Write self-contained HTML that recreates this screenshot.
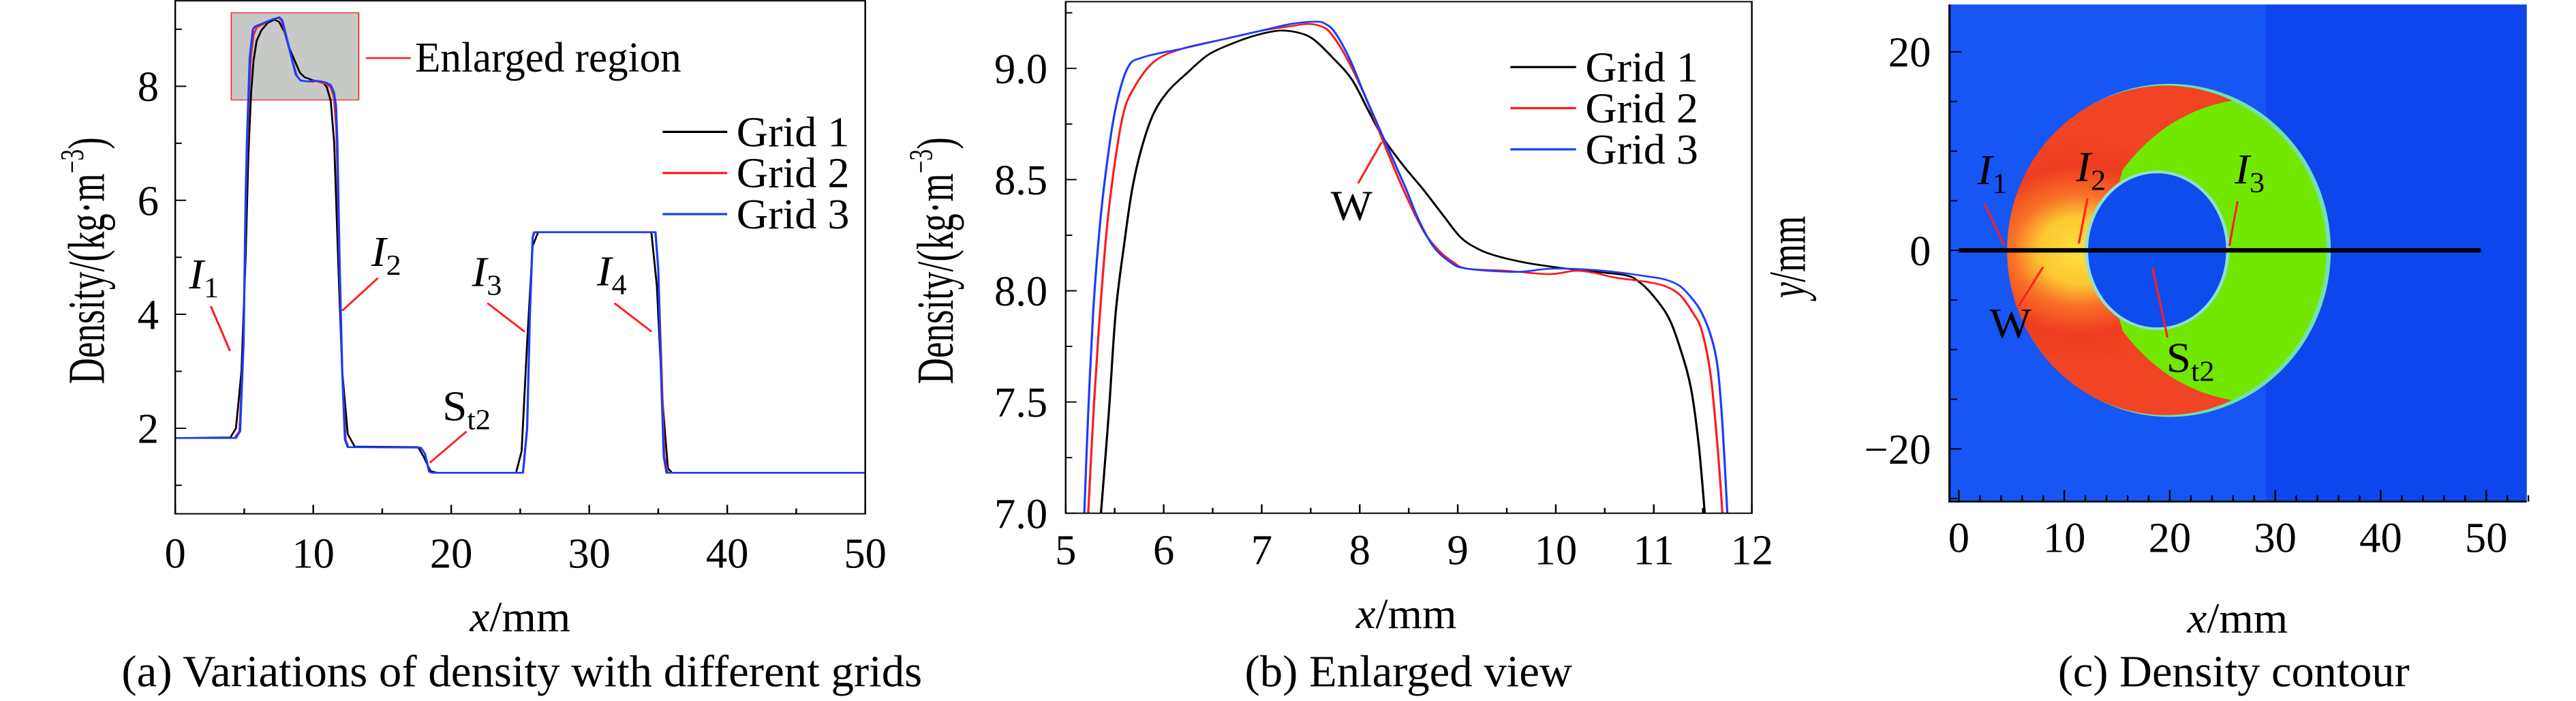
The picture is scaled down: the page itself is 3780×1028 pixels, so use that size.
<!DOCTYPE html>
<html><head><meta charset="utf-8">
<style>
html,body{margin:0;padding:0;background:#fff;}
body{width:3780px;height:1028px;position:relative;overflow:hidden;font-family:"Liberation Serif",serif;}
svg{position:absolute;top:0;overflow:visible;}
text{font-family:"Liberation Serif",serif;fill:#000;}
</style></head>
<body>
<svg id="pa" style="left:0" width="1260" height="1028" viewBox="0 0 1568 1568" preserveAspectRatio="none"></svg>
<svg id="pb" style="left:1260px" width="1260" height="1028" viewBox="0 0 1568 1568" preserveAspectRatio="none"></svg>
<svg id="pc" style="left:2520px" width="1260" height="1028" viewBox="0 0 1568 1568" preserveAspectRatio="none"></svg>
<script>
// ---------- data ----------
const aXTicks=[0,10,20,30,40,50];
const aYTicks=[2,4,6,8];
const bXTicks=[5,6,7,8,9,10,11,12];
const bYTicks=["7.0","7.5","8.0","8.5","9.0"];
const cXTicks=[0,10,20,30,40,50];
const cYTicks=[20,0,-20];
const seriesNames=["Grid 1","Grid 2","Grid 3"];
const seriesColors=["#000000","#ff1a1a","#1a3cff"];

const aGrid1=[[0,1.83],[4.0,1.84],[4.4,2.0],[4.8,3.0],[5.1,5.0],[5.3,6.8],[5.5,7.9],[5.68,8.46],[5.9,8.8],[6.24,8.98],[6.69,9.11],[7.19,9.17],[7.53,9.13],[7.92,8.95],[8.25,8.68],[8.64,8.46],[9.03,8.24],[9.37,8.16],[9.93,8.11],[10.71,8.07],[10.99,7.98],[11.27,7.74],[11.52,7.0],[11.8,5.0],[12.1,3.0],[12.5,1.9],[13,1.68],[17.6,1.67],[18.0,1.5],[18.5,1.25],[19,1.22],[24.7,1.22],[25.1,1.6],[25.5,3.5],[25.9,5.2],[26.3,5.44],[34.5,5.44],[34.9,4.5],[35.3,2.5],[35.7,1.3],[36,1.22],[50,1.22]];
const aGrid2=[[0,1.83],[4.3,1.83],[4.65,1.95],[4.95,3.5],[5.12,6],[5.23,7.0],[5.35,7.9],[5.49,8.54],[5.68,8.9],[5.9,9.03],[7.0,9.17],[7.47,9.2],[7.7,9.16],[8.25,8.66],[8.81,8.18],[9.09,8.1],[9.93,8.075],[10.2,8.09],[10.6,8.06],[10.93,8.04],[11.27,7.98],[11.49,7.82],[11.65,7.3],[11.7,7.0],[11.88,5],[12.1,3],[12.35,1.8],[12.55,1.67],[17.8,1.66],[18.1,1.55],[18.4,1.24],[18.6,1.22],[25.2,1.22],[25.5,2.0],[25.7,4.0],[25.9,5.35],[26.05,5.44],[34.8,5.44],[35.0,4.8],[35.25,3.0],[35.45,1.5],[35.7,1.22],[50,1.22]];
const aGrid3=[[0,1.83],[4.4,1.83],[4.7,1.95],[4.95,3.5],[5.1,6],[5.19,7.0],[5.40,8.5],[5.63,9.0],[5.79,9.05],[7.0,9.17],[7.55,9.21],[7.75,9.16],[8.25,8.68],[8.47,8.46],[8.75,8.2],[9.09,8.1],[9.59,8.085],[9.98,8.1],[10.49,8.09],[10.93,8.065],[11.27,8.02],[11.49,7.9],[11.65,7.66],[11.75,7.0],[11.9,5],[12.1,3],[12.3,1.8],[12.5,1.67],[17.8,1.66],[18.1,1.55],[18.4,1.24],[18.6,1.22],[25.2,1.22],[25.5,2.0],[25.7,4.0],[25.9,5.35],[26.0,5.44],[34.8,5.44],[35.0,4.8],[35.2,3.0],[35.4,1.5],[35.6,1.22],[50,1.22]];

const bGrid1=[[5.36,7.0],[5.44,7.45],[5.51,7.9],[5.6,8.22],[5.68,8.46],[5.78,8.65],[5.9,8.8],[6.05,8.9],[6.24,8.98],[6.45,9.06],[6.69,9.11],[6.95,9.15],[7.19,9.17],[7.38,9.16],[7.53,9.13],[7.72,9.05],[7.92,8.95],[8.1,8.8],[8.25,8.68],[8.45,8.56],[8.64,8.46],[8.85,8.34],[9.03,8.24],[9.2,8.19],[9.37,8.16],[9.65,8.13],[9.93,8.11],[10.3,8.09],[10.71,8.07],[10.85,8.04],[10.99,7.98],[11.15,7.88],[11.27,7.74],[11.38,7.56],[11.46,7.3],[11.52,7.0]];
const bGrid2=[[5.23,7.0],[5.29,7.5],[5.35,7.9],[5.42,8.28],[5.49,8.54],[5.58,8.78],[5.68,8.9],[5.9,9.03],[6.2,9.09],[6.6,9.13],[7.0,9.17],[7.3,9.19],[7.47,9.2],[7.6,9.19],[7.7,9.16],[7.85,9.06],[8.05,8.88],[8.25,8.66],[8.45,8.45],[8.65,8.27],[8.81,8.18],[8.95,8.13],[9.09,8.1],[9.5,8.09],[9.93,8.075],[10.2,8.09],[10.4,8.08],[10.6,8.06],[10.93,8.04],[11.12,8.02],[11.27,7.98],[11.4,7.9],[11.49,7.82],[11.58,7.62],[11.65,7.3],[11.7,7.0]];
const bGrid3=[[5.19,7.0],[5.23,7.45],[5.28,7.9],[5.34,8.25],[5.40,8.5],[5.5,8.8],[5.63,9.0],[5.79,9.05],[6.2,9.09],[6.6,9.13],[7.0,9.17],[7.3,9.2],[7.55,9.21],[7.65,9.2],[7.75,9.16],[7.9,9.04],[8.05,8.88],[8.25,8.68],[8.47,8.46],[8.6,8.32],[8.75,8.2],[8.92,8.13],[9.09,8.1],[9.59,8.085],[9.98,8.1],[10.49,8.09],[10.93,8.065],[11.12,8.05],[11.27,8.02],[11.4,7.96],[11.49,7.9],[11.58,7.8],[11.65,7.66],[11.7,7.4],[11.75,7.0]];

const aSeries=[aGrid1,aGrid2,aGrid3];
const bSeries=[bGrid1,bGrid2,bGrid3];

// contour geometry in data units (mm)
const outerEllipse=[20.0,0,15.06,16.6];   // cx, cy, rx, ry
const innerEllipse=[18.8,0,6.7,7.9];
const probeLine=[0,49.5,0];               // x0, x1, y

// ---------- helpers ----------
const NS="http://www.w3.org/2000/svg";
function el(parent,tag,attrs){const e=document.createElementNS(NS,tag);for(const k in attrs)e.setAttribute(k,attrs[k]);parent.appendChild(e);return e;}
function txt(parent,x,y,str,size,anchor,sx){const t=el(parent,"text",{transform:`translate(${x},${y}) scale(${sx||0.82},1)`,"font-size":size,"text-anchor":anchor||"start"});t.textContent=str;return t;}
function line(p,x1,y1,x2,y2,c,w){return el(p,"line",{x1,y1,x2,y2,stroke:c,"stroke-width":w});}
function smooth(pts){ // Catmull-Rom to cubic bezier
 let d="M"+pts[0][0]+","+pts[0][1];
 for(let i=0;i<pts.length-1;i++){
  const p0=pts[i-1]||pts[i],p1=pts[i],p2=pts[i+1],p3=pts[i+2]||p2;
  const c1=[p1[0]+(p2[0]-p0[0])/6,p1[1]+(p2[1]-p0[1])/6],c2=[p2[0]-(p3[0]-p1[0])/6,p2[1]-(p3[1]-p1[1])/6];
  d+=` C${c1[0]},${c1[1]} ${c2[0]},${c2[1]} ${p2[0]},${p2[1]}`;
 }
 return d;
}

// ================= Panel A =================
(function(){
const s=document.getElementById("pa");
const X=x=>320+x*25.2, Y=v=>958-(v-2)*127.5;
const top=Y(9.5),bot=Y(0.5),L=X(0),R=X(50);
const rr=el(s,"rect",{x:X(4.06),y:Y(9.29),width:X(13.3)-X(4.06),height:Y(7.76)-Y(9.29),fill:"#c6c9c6",stroke:"#ff2020","stroke-width":2});

line(s,668,130,750,130,"#ff2020",4);
const et=txt(s,758,160,"Enlarged region",95,"start",0.8);

aSeries.forEach((d,i)=>{
 const p=el(s,"polyline",{points:d.map(q=>X(q[0])+","+Y(q[1])).join(" "),fill:"none",stroke:seriesColors[i],"stroke-width":i==2?4:3.5,"stroke-linejoin":"round"});
 
});
const fr=el(s,"rect",{x:L,y:top,width:R-L,height:bot-top,fill:"none",stroke:"#000","stroke-width":3});

for(let x=0;x<=50;x+=5){line(s,X(x),bot,X(x),bot-(x%10==0?20:12),"#000",3);}
for(let v=1;v<=9;v++){line(s,L,Y(v),L+(v%2==0?20:12),Y(v),"#000",3);}
aXTicks.forEach(v=>{const t=txt(s,X(v),1270,String(v),95,"middle");});
aYTicks.forEach(v=>{const t=txt(s,290,Y(v)+33,String(v),95,"end");});
const yt=el(s,"text",{transform:"translate(190,583) rotate(-90) scale(0.85,1)","font-size":95,"text-anchor":"middle"});
yt.innerHTML='Density/(kg·m<tspan font-size="60" dy="-38">−3</tspan><tspan dy="38">)</tspan>';

const xt=el(s,"text",{transform:"translate(950,1412) scale(0.85,1)","font-size":95,"text-anchor":"middle"});
xt.innerHTML='<tspan font-style="italic">x</tspan>/mm';

const cap=el(s,"text",{x:222,y:1535,"font-size":100,textLength:1462,lengthAdjust:"spacingAndGlyphs"});
cap.textContent="(a) Variations of density with different grids";

seriesNames.forEach((n,i)=>{
 const yy=295+i*92;
 const lg=line(s,1210,yy,1328,yy,seriesColors[i],5);
 
 const t=txt(s,1345,yy+32,n,95,"start",0.84);
 
});
function lab(x,y,main,sub,italic,nm){const t=el(s,"text",{transform:`translate(${x},${y}) scale(0.85,1)`,"font-size":95});t.innerHTML=`<tspan ${italic?'font-style="italic"':''}>${main}</tspan><tspan font-size="65" dy="20">${sub}</tspan>`;}
lab(345,645,"I","1",true,"label-i1");line(s,385,685,420,785,"#ff2020",4);
lab(678,595,"I","2",true,"label-i2");line(s,690,622,625,695,"#ff2020",4);
lab(862,640,"I","3",true,"label-i3");line(s,890,678,958,742,"#ff2020",4);
lab(1090,638,"I","4",true,"label-i4");line(s,1122,678,1190,742,"#ff2020",4);
lab(808,940,"S","t2",false,"label-st2");line(s,852,965,785,1035,"#ff2020",4);
})();

// ================= Panel B =================
(function(){
const s=document.getElementById("pb");
const X=x=>378+(x-5)*179, Y=v=>1148-(v-7)*497.5;
const L=X(5),R=X(12),top=Y(9.3),bot=Y(7);
const cp=el(s,"clipPath",{id:"clipb"});el(cp,"rect",{x:L,y:top,width:R-L,height:bot-top});
bSeries.forEach((d,i)=>{
 const p=el(s,"path",{d:smooth(d.map(q=>[X(q[0]),Y(q[1])])),fill:"none",stroke:seriesColors[i],"stroke-width":4,"stroke-linejoin":"round","clip-path":"url(#clipb)"});
 
});
const fr=el(s,"rect",{x:L,y:top,width:R-L,height:bot-top,fill:"none",stroke:"#000","stroke-width":3});

for(let k=0;k<=14;k++){const x=5+k*0.5;line(s,X(x),bot,X(x),bot-(k%2==0?20:12),"#000",3);}
for(let k=0;k<=9;k++){const v=7+k*0.25;line(s,L,Y(v),L+(k%2==0?20:12),Y(v),"#000",3);}
bXTicks.forEach(v=>{const t=txt(s,X(v),1262,String(v),95,"middle");});
bYTicks.forEach(v=>{const t=txt(s,345,Y(parseFloat(v))+33,v,95,"end");});
const yt=el(s,"text",{transform:"translate(172,583) rotate(-90) scale(0.85,1)","font-size":95,"text-anchor":"middle"});
yt.innerHTML='Density/(kg·m<tspan font-size="60" dy="-38">−3</tspan><tspan dy="38">)</tspan>';

const xt=el(s,"text",{transform:"translate(1000,1405) scale(0.85,1)","font-size":95,"text-anchor":"middle"});
xt.innerHTML='<tspan font-style="italic">x</tspan>/mm';

const cap=el(s,"text",{x:705,y:1535,"font-size":100,textLength:598,lengthAdjust:"spacingAndGlyphs"});
cap.textContent="(b) Enlarged view";

seriesNames.forEach((n,i)=>{
 const yy=150+i*92;
 const lg=line(s,1190,yy,1310,yy,seriesColors[i],5);
 
 const t=txt(s,1327,yy+32,n,95,"start",0.84);
 
});
line(s,955,318,912,410,"#ff2020",4);
const w=txt(s,862,492,"W",95,"start",0.85);
})();

// ================= Panel C =================
(function(){
const s=document.getElementById("pc");
const X=x=>441+x*19.26, Y=y=>560-y*22.2;
const defs=el(s,"defs",{});
const rg=el(defs,"radialGradient",{id:"redg",cx:X(11.5),cy:Y(0),r:250,gradientUnits:"userSpaceOnUse"});
el(rg,"stop",{offset:"0","stop-color":"#ffe040"});
el(rg,"stop",{offset:"0.3","stop-color":"#fcc830"});
el(rg,"stop",{offset:"0.5","stop-color":"#f87028"});
el(rg,"stop",{offset:"0.75","stop-color":"#f03c20"});
el(rg,"stop",{offset:"1","stop-color":"#f04424"});
const bg=el(s,"rect",{x:424,y:10,width:1054,height:1112,fill:"#1656f4"});

el(s,"rect",{x:1002,y:10,width:476,height:1112,fill:"#0c46ec"});
const [ocx,ocy,orx,ory]=outerEllipse,[icx,icy,irx,iry]=innerEllipse;
const RX=orx*19.26,RY=ory*22.2;
const oe=el(s,"ellipse",{cx:X(ocx),cy:Y(ocy),rx:RX,ry:RY,fill:"#72e800",stroke:"#6fe0b0","stroke-width":8});

const red=el(s,"path",{d:`M940,225 A${RX} ${RY} 0 1 0 940,895 Q820,870 740,740 L700,560 L740,380 Q820,250 940,225 Z`,fill:"url(#redg)"});

const ie=el(s,"ellipse",{cx:X(icx),cy:Y(icy),rx:irx*19.26,ry:iry*22.2,fill:"#0e4cee",stroke:"#8fe0d0","stroke-width":6});

const pl=line(s,X(probeLine[0]),Y(probeLine[2]),X(probeLine[1]),Y(probeLine[2]),"#000",10);

line(s,424,10,424,1124,"#000",4);line(s,422,1122,1478,1122,"#000",4);
for(let x=0;x<=54;x+=2){line(s,X(x),1122,X(x),1122-(x%10==0?26:14),"#000",3);}
for(let y=-25;y<=25;y+=5){if(Y(y)>10&&Y(y)<1122)line(s,424,Y(y),424+(y%20==0?22:14),Y(y),"#000",3);}
cXTicks.forEach(v=>{const t=txt(s,X(v),1235,String(v),95,"middle");});
cYTicks.forEach(v=>{const t=txt(s,390,Y(v)+33,v<0?"−"+(-v):String(v),95,"end");});
const yt=el(s,"text",{transform:"translate(160,575) rotate(-90) scale(0.85,1)","font-size":95,"text-anchor":"middle"});
yt.innerHTML='<tspan font-style="italic">y</tspan>/mm';

const xt=el(s,"text",{transform:"translate(950,1415) scale(0.85,1)","font-size":95,"text-anchor":"middle"});
xt.innerHTML='<tspan font-style="italic">x</tspan>/mm';

const cap=el(s,"text",{x:622,y:1535,"font-size":100,textLength:642,lengthAdjust:"spacingAndGlyphs"});
cap.textContent="(c) Density contour";

function lab(x,y,main,sub,italic,nm){const t=el(s,"text",{transform:`translate(${x},${y}) scale(0.85,1)`,"font-size":95});t.innerHTML=`<tspan ${italic?'font-style="italic"':''}>${main}</tspan><tspan font-size="65" dy="20">${sub}</tspan>`;}
lab(475,412,"I","1",true,"label-c-i1");line(s,488,455,523,548,"#ff2020",4);
lab(655,405,"I","2",true,"label-c-i2");line(s,676,443,660,545,"#ff2020",4);
lab(945,410,"I","3",true,"label-c-i3");line(s,950,450,935,550,"#ff2020",4);
lab(820,832,"S","t2",false,"label-c-st2");line(s,795,600,822,755,"#ff2020",4);
line(s,595,597,550,685,"#ff2020",4);
const w=txt(s,497,755,"W",95,"start",0.85);
})();
</script>
</body></html>
